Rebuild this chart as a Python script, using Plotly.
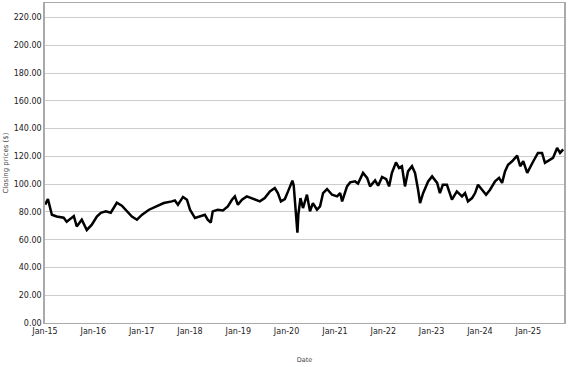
import plotly.graph_objects as go

dates = [
    "2015-01-02", "2015-01-23", "2015-02-22", "2015-03-30", "2015-05-22", "2015-06-14",
    "2015-08-07", "2015-08-29", "2015-10-06", "2015-11-13", "2015-12-21",
    "2016-01-28", "2016-02-27", "2016-04-05", "2016-05-12", "2016-06-27", "2016-08-04",
    "2016-09-11", "2016-10-19", "2016-11-26",
    "2017-01-04", "2017-02-25", "2017-04-25", "2017-06-17", "2017-08-17", "2017-09-09",
    "2017-10-02", "2017-11-09", "2017-12-09",
    "2018-01-01", "2018-02-08", "2018-03-16", "2018-04-23", "2018-05-15", "2018-06-07",
    "2018-06-22", "2018-07-30", "2018-09-07", "2018-10-14", "2018-11-14", "2018-12-06",
    "2018-12-29",
    "2019-01-29", "2019-03-06", "2019-04-13", "2019-05-21", "2019-06-13", "2019-07-20",
    "2019-08-28", "2019-10-04", "2019-10-27", "2019-11-19", "2019-12-19",
    "2020-01-12", "2020-02-14", "2020-02-24", "2020-03-09", "2020-03-23", "2020-03-30",
    "2020-04-15", "2020-05-04", "2020-06-03", "2020-06-26", "2020-07-18", "2020-08-18",
    "2020-09-10", "2020-10-03", "2020-11-02", "2020-12-10",
    "2021-01-17", "2021-02-09", "2021-02-24", "2021-04-02", "2021-04-25", "2021-06-02",
    "2021-06-24", "2021-08-01", "2021-09-01", "2021-09-23", "2021-10-31", "2021-11-23",
    "2021-12-23",
    "2022-01-23", "2022-02-14", "2022-03-07", "2022-04-07", "2022-04-30", "2022-05-22",
    "2022-06-14", "2022-07-07", "2022-08-06", "2022-08-29", "2022-09-21", "2022-10-06",
    "2022-10-29", "2022-12-06",
    "2023-01-05", "2023-02-12", "2023-03-05", "2023-03-27", "2023-04-27", "2023-06-04",
    "2023-07-11", "2023-08-19", "2023-09-11", "2023-10-03", "2023-11-03", "2023-11-26",
    "2023-12-18",
    "2024-01-18", "2024-02-17", "2024-03-18", "2024-04-25", "2024-05-25", "2024-06-17",
    "2024-07-09", "2024-08-01", "2024-09-01", "2024-10-09", "2024-11-01", "2024-11-24",
    "2024-12-24",
    "2025-01-16", "2025-02-08", "2025-03-15", "2025-04-15", "2025-05-07", "2025-06-14",
    "2025-07-07", "2025-08-07", "2025-08-29", "2025-09-22",
]

closing_prices = [
    85.3, 89.3, 78.0, 76.7, 75.8, 73.0,
    77.0, 69.5, 74.4, 67.0, 70.8,
    76.7, 79.4, 80.4, 79.4, 86.6, 84.5,
    80.4, 76.7, 74.4,
    78.0, 81.6, 84.0, 86.4, 87.6, 88.3,
    85.2, 90.8, 88.8,
    81.6, 75.6, 76.7, 78.0, 74.4, 72.4,
    80.4, 81.6, 81.1, 84.0, 88.8, 91.2,
    85.2,
    88.8, 91.2, 90.0, 88.3, 87.6, 90.0,
    94.8, 97.2, 93.6, 87.6, 89.3,
    94.8, 102.5, 99.0, 80.0, 65.0, 78.0,
    90.0, 82.8, 92.4, 80.4, 86.4, 81.6,
    84.0, 93.6, 96.5, 92.4,
    91.2, 93.6, 87.6, 98.4, 101.3, 102.0,
    100.4, 108.1, 104.5, 98.4, 102.7, 98.9,
    105.2,
    103.7, 98.4, 108.1, 115.7, 111.7, 112.9,
    98.4, 109.2, 112.9, 108.1, 96.0, 86.4,
    93.5, 102.0,
    105.6, 100.9, 93.6, 99.6, 99.6, 88.8,
    94.8, 91.2, 93.6, 87.6, 90.0, 93.6,
    99.6,
    96.0, 92.4, 96.0, 102.0, 104.5, 100.9,
    109.2, 114.0, 116.5, 120.6, 112.9, 116.5,
    108.1,
    112.9, 116.5, 122.5, 122.5, 115.3, 117.7,
    118.9, 126.1, 122.5, 125.0,
]

x_tick_dates = ["2015-01-01", "2016-01-01", "2017-01-01", "2018-01-01", "2019-01-01",
                "2020-01-01", "2021-01-01", "2022-01-01", "2023-01-01", "2024-01-01",
                "2025-01-01"]
x_tick_labels = ["Jan-15", "Jan-16", "Jan-17", "Jan-18", "Jan-19", "Jan-20",
                 "Jan-21", "Jan-22", "Jan-23", "Jan-24", "Jan-25"]
y_tick_values = [0, 20, 40, 60, 80, 100, 120, 140, 160, 180, 200, 220]

fig = go.Figure()
fig.add_trace(go.Scatter(
    x=dates, y=closing_prices, mode="lines",
    line=dict(color="black", width=2.5),
    showlegend=False,
    hoverinfo="skip",
))

fig.update_layout(
    width=577, height=367,
    margin=dict(l=45, r=13, t=3, b=44),
    paper_bgcolor="white", plot_bgcolor="white",
    font=dict(family="DejaVu Sans", color="#333333"),
    hovermode=False,
    xaxis=dict(
        type="date",
        range=["2015-01-01", "2025-09-28"],
        tickvals=x_tick_dates, ticktext=x_tick_labels,
        tickfont=dict(size=8, color="#222222"),
        showgrid=False,
        showline=True, linecolor="#aaaaaa", linewidth=1, mirror=True,
        ticks="", ticklen=0,
        title=dict(text="Date", font=dict(size=6.5, color="#444444"), standoff=22),
    ),
    yaxis=dict(
        range=[0, 230.5],
        tickvals=y_tick_values, tickformat=".2f",
        tickfont=dict(size=8, color="#222222"),
        showgrid=True, gridcolor="#cccccc", gridwidth=1,
        zeroline=False,
        showline=True, linecolor="#aaaaaa", linewidth=1.5, mirror=True,
        ticks="", ticklen=0,
        title=dict(text="Closing prices ($)", font=dict(size=7, color="#444444"), standoff=4),
    ),
)

fig.write_html(
    "out.html",
    config={"displayModeBar": False},
    post_script="document.body.style.margin='0px';",
)
